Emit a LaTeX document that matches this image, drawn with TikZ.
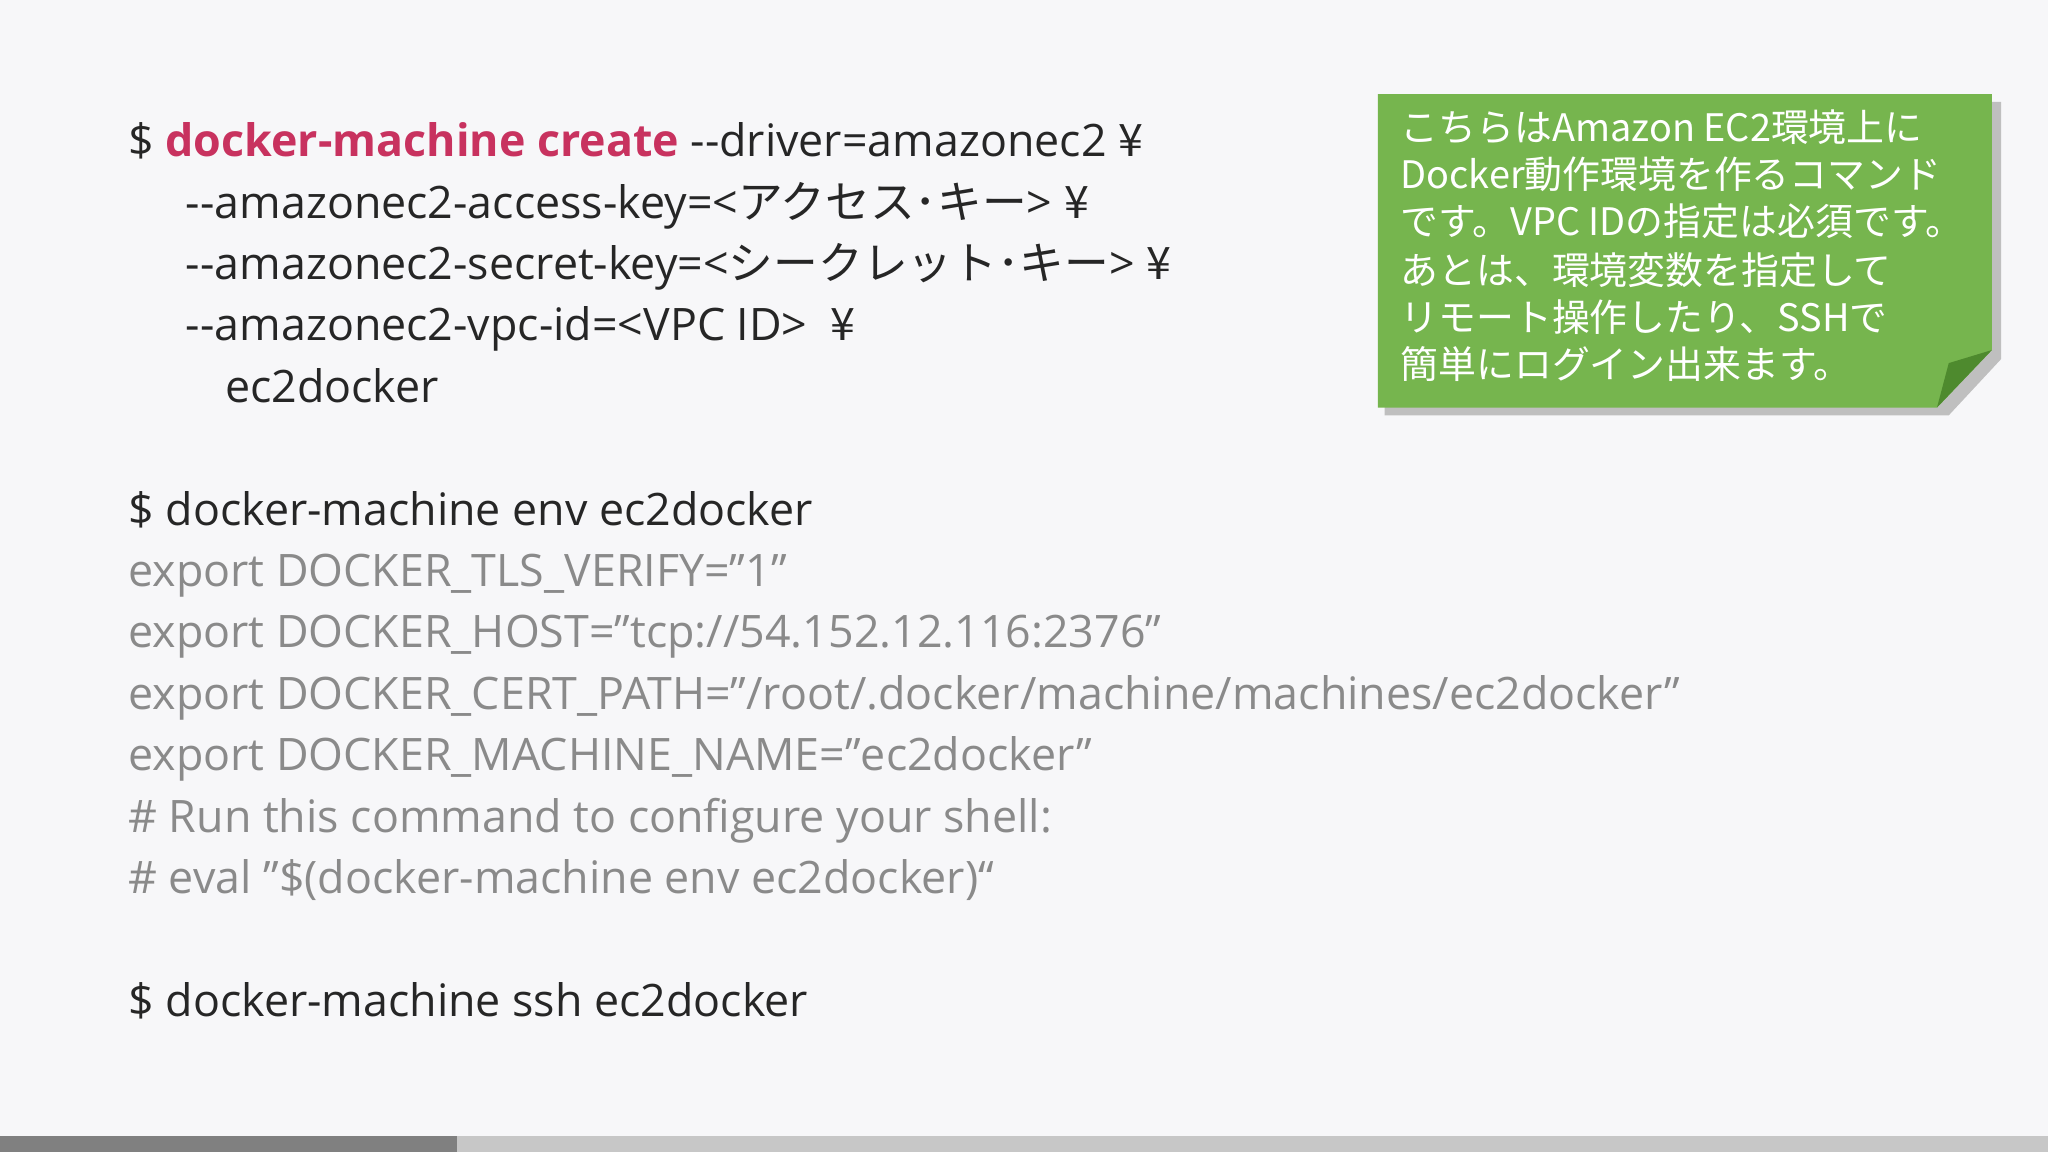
\documentclass[tikz,border=0pt]{standalone}
\usepackage{fontspec}
\setmainfont{Open Sans}
\newfontfamily\jp{Noto Sans CJK JP}
\definecolor{bg}{HTML}{F7F7F9}
\definecolor{redc}{HTML}{C8325F}
\definecolor{graytxt}{HTML}{8A8A8A}
\definecolor{note}{HTML}{76B54E}
\definecolor{notedark}{HTML}{4E8A2E}
\newcommand{\qq}{\symbol{34}}
\newcommand{\dd}{-{}-}
\begin{document}
\begin{tikzpicture}[x=0.02cm,y=-0.02cm,
  cmd/.style={anchor=base west,inner sep=0,font=\fontsize{19.5}{20}\selectfont,text=black!85},
  outtxt/.style={cmd,text=graytxt},
  nt/.style={anchor=base west,inner sep=0,font=\jp\fontsize{16.5}{17}\selectfont,text=white}]
\fill[bg] (0,0) rectangle (1568,882);
\useasboundingbox (0,0) rectangle (1568,882);
% note
\fill[black!25] (1060,78) -- (1532,78) -- (1532,275) -- (1492,318) -- (1060,318) -- cycle;
\fill[note] (1055,72) -- (1525,72) -- (1525,268) -- (1483,312) -- (1055,312) -- cycle;
\fill[notedark] (1525,268) -- (1483,312) -- (1492,278) -- cycle;
\node[nt] (n1) at (1072,108) {こちらはAmazon EC2環境上に};
\node[nt] (n2) at (1072,144) {Docker動作環境を作るコマンド};
\node[nt] (n3) at (1072,180) {です。VPC IDの指定は必須です。};
\node[nt] (n4) at (1072,218) {あとは、環境変数を指定して};
\node[nt] (n5) at (1072,254) {リモート操作したり、SSHで};
\node[nt] (n6) at (1072,290) {簡単にログイン出来ます。};
% commands
\node[cmd] (c1) at (98,120) {\$ \textcolor{redc}{\textbf{docker-machine create}} \dd driver=amazonec2 {\jp ¥}};
\node[cmd] (c2) at (142,167) {\dd amazonec2-access-key=<{\jp アクセス･キー}> {\jp ¥}};
\node[cmd] (c3) at (142,214) {\dd amazonec2-secret-key=<{\jp シークレット･キー}> {\jp ¥}};
\node[cmd] (c4) at (142,261) {\dd amazonec2-vpc-id=<VPC ID> \ {\jp ¥}};
\node[cmd] (c5) at (172,308) {ec2docker};
\node[cmd] (e0) at (98,402) {\$ docker-machine env ec2docker};
\node[outtxt] (e1) at (98,449) {export DOCKER\_TLS\_VERIFY=\qq 1\qq};
\node[outtxt] (e2) at (98,496) {export DOCKER\_HOST=\qq tcp://54.152.12.116:2376\qq};
\node[outtxt] (e3) at (98,543) {export DOCKER\_CERT\_PATH=\qq /root/.docker/machine/machines/ec2docker\qq};
\node[outtxt] (e4) at (98,590) {export DOCKER\_MACHINE\_NAME=\qq ec2docker\qq};
\node[outtxt] (e5) at (98,637) {\# Run this command to configure your shell:};
\node[outtxt] (e6) at (98,684) {\# eval \qq\$(docker-machine env ec2docker)“};
\node[cmd] (s1) at (98,778) {\$ docker-machine ssh ec2docker};
% progress bar
\fill[black!50] (0,870) rectangle (350,882);
\fill[black!22] (350,870) rectangle (1568,882);
\end{tikzpicture}
\end{document}
